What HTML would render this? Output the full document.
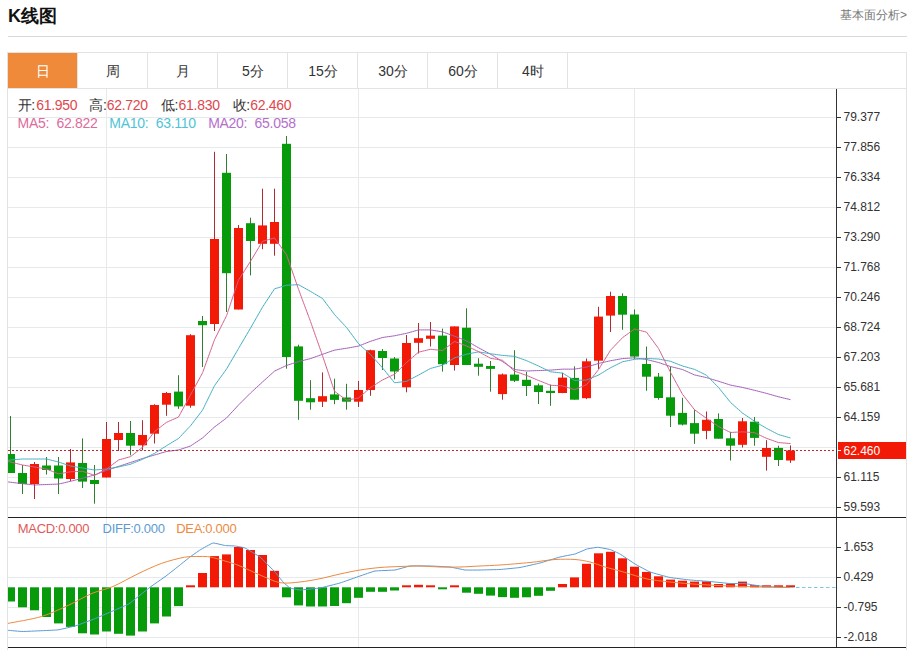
<!DOCTYPE html>
<html><head><meta charset="utf-8">
<style>
html,body{margin:0;padding:0;background:#fff;width:913px;height:650px;overflow:hidden;}
body{position:relative;font-family:"Liberation Sans",sans-serif;color:#333;}
.abs{position:absolute;white-space:nowrap;}
.title{left:8px;top:4px;font-size:18px;font-weight:bold;color:#111;line-height:24px;}
.more{left:840px;top:7px;font-size:12px;color:#777;line-height:16px;}
.hr{left:8px;top:36px;width:899px;height:1px;background:#d9d9d9;}
.tabs{left:7px;top:52px;width:898px;height:35px;border:1px solid #e3e3e3;border-bottom:1px solid #e3e3e3;}
.tab{position:absolute;top:0;height:35px;line-height:36px;text-align:center;font-size:14px;color:#333;}
.tab.on{background:#f08a3b;color:#fff;}
.sep{position:absolute;top:0;width:1px;height:35px;background:#e3e3e3;}
.box{left:7px;top:88px;width:898px;height:562px;border-left:1px solid #e3e3e3;border-right:1px solid #e3e3e3;}
svg{position:absolute;left:0;top:0;}
.ax{font-family:"Liberation Sans",sans-serif;font-size:12px;fill:#333;}
.i14{font-size:14px;line-height:16px;letter-spacing:-0.3px}.i13{font-size:13px;line-height:16px;letter-spacing:-0.3px}
.lb{color:#333}.vr{color:#e0474c}
</style></head><body>
<div class="abs title">K线图</div>
<div class="abs more">基本面分析&gt;</div>
<div class="abs hr"></div>
<div class="abs tabs">
<div class="tab on" style="left:0;width:69px">日</div>
<div class="sep" style="left:69px"></div>
<div class="tab" style="left:70px;width:70px">周</div>
<div class="sep" style="left:139px"></div>
<div class="tab" style="left:140px;width:70px">月</div>
<div class="sep" style="left:209px"></div>
<div class="tab" style="left:210px;width:70px">5分</div>
<div class="sep" style="left:279px"></div>
<div class="tab" style="left:280px;width:70px">15分</div>
<div class="sep" style="left:349px"></div>
<div class="tab" style="left:350px;width:70px">30分</div>
<div class="sep" style="left:419px"></div>
<div class="tab" style="left:420px;width:70px">60分</div>
<div class="sep" style="left:489px"></div>
<div class="tab" style="left:490px;width:70px">4时</div>
<div class="sep" style="left:559px"></div>
</div>
<div class="abs box"></div>
<svg width="913" height="650" viewBox="0 0 913 650" shape-rendering="auto">
<defs><clipPath id="cp"><rect x="8" y="89" width="828" height="558"/></clipPath></defs>
<line x1="8" x2="836" y1="117.5" y2="117.5" stroke="#e7eaed" stroke-width="1"/>
<line x1="8" x2="836" y1="147.5" y2="147.5" stroke="#e7eaed" stroke-width="1"/>
<line x1="8" x2="836" y1="177.5" y2="177.5" stroke="#e7eaed" stroke-width="1"/>
<line x1="8" x2="836" y1="207.5" y2="207.5" stroke="#e7eaed" stroke-width="1"/>
<line x1="8" x2="836" y1="237.5" y2="237.5" stroke="#e7eaed" stroke-width="1"/>
<line x1="8" x2="836" y1="267.5" y2="267.5" stroke="#e7eaed" stroke-width="1"/>
<line x1="8" x2="836" y1="297.5" y2="297.5" stroke="#e7eaed" stroke-width="1"/>
<line x1="8" x2="836" y1="327.5" y2="327.5" stroke="#e7eaed" stroke-width="1"/>
<line x1="8" x2="836" y1="357.5" y2="357.5" stroke="#e7eaed" stroke-width="1"/>
<line x1="8" x2="836" y1="387.5" y2="387.5" stroke="#e7eaed" stroke-width="1"/>
<line x1="8" x2="836" y1="417.5" y2="417.5" stroke="#e7eaed" stroke-width="1"/>
<line x1="8" x2="836" y1="447.5" y2="447.5" stroke="#e7eaed" stroke-width="1"/>
<line x1="8" x2="836" y1="477.5" y2="477.5" stroke="#e7eaed" stroke-width="1"/>
<line x1="8" x2="836" y1="507.5" y2="507.5" stroke="#e7eaed" stroke-width="1"/>
<line x1="106.5" x2="106.5" y1="89" y2="647" stroke="#e7eaed" stroke-width="1"/>
<line x1="358.5" x2="358.5" y1="89" y2="647" stroke="#e7eaed" stroke-width="1"/>
<line x1="634.5" x2="634.5" y1="89" y2="647" stroke="#e7eaed" stroke-width="1"/>
<line x1="8" x2="836" y1="547.5" y2="547.5" stroke="#e7eaed" stroke-width="1"/>
<line x1="8" x2="836" y1="577.5" y2="577.5" stroke="#e7eaed" stroke-width="1"/>
<line x1="8" x2="836" y1="607.5" y2="607.5" stroke="#e7eaed" stroke-width="1"/>
<line x1="8" x2="836" y1="637.5" y2="637.5" stroke="#e7eaed" stroke-width="1"/>
<g clip-path="url(#cp)">
<rect x="10" y="416.0" width="1" height="57.0" fill="#2f7f2f"/>
<rect x="6" y="454.0" width="9" height="19.0" fill="#079b0c"/>
<rect x="22" y="465.0" width="1" height="29.0" fill="#2f7f2f"/>
<rect x="18" y="473.0" width="9" height="11.0" fill="#079b0c"/>
<rect x="34" y="462.0" width="1" height="37.0" fill="#b02a32"/>
<rect x="30" y="464.0" width="9" height="20.0" fill="#f21a06"/>
<rect x="46" y="457.0" width="1" height="17.5" fill="#2f7f2f"/>
<rect x="42" y="465.5" width="9" height="4.5" fill="#079b0c"/>
<rect x="58" y="457.0" width="1" height="37.0" fill="#2f7f2f"/>
<rect x="54" y="465.5" width="9" height="13.0" fill="#079b0c"/>
<rect x="70" y="449.0" width="1" height="32.0" fill="#b02a32"/>
<rect x="66" y="462.4" width="9" height="16.6" fill="#f21a06"/>
<rect x="82" y="438.4" width="1" height="49.6" fill="#2f7f2f"/>
<rect x="78" y="463.0" width="9" height="18.6" fill="#079b0c"/>
<rect x="94" y="465.0" width="1" height="38.7" fill="#2f7f2f"/>
<rect x="90" y="480.0" width="9" height="4.0" fill="#079b0c"/>
<rect x="106" y="422.0" width="1" height="55.5" fill="#b02a32"/>
<rect x="102" y="439.0" width="9" height="38.5" fill="#f21a06"/>
<rect x="118" y="422.0" width="1" height="29.0" fill="#b02a32"/>
<rect x="114" y="433.0" width="9" height="7.0" fill="#f21a06"/>
<rect x="130" y="421.0" width="1" height="34.3" fill="#2f7f2f"/>
<rect x="126" y="433.0" width="9" height="12.7" fill="#079b0c"/>
<rect x="142" y="420.2" width="1" height="30.1" fill="#b02a32"/>
<rect x="138" y="435.0" width="9" height="10.3" fill="#f21a06"/>
<rect x="154" y="404.2" width="1" height="39.3" fill="#b02a32"/>
<rect x="150" y="405.0" width="9" height="28.7" fill="#f21a06"/>
<rect x="166" y="392.0" width="1" height="23.8" fill="#b02a32"/>
<rect x="162" y="393.0" width="9" height="11.7" fill="#f21a06"/>
<rect x="178" y="375.2" width="1" height="33.6" fill="#2f7f2f"/>
<rect x="174" y="391.6" width="9" height="14.8" fill="#079b0c"/>
<rect x="190" y="334.2" width="1" height="73.5" fill="#b02a32"/>
<rect x="186" y="335.2" width="9" height="70.5" fill="#f21a06"/>
<rect x="202" y="316.0" width="1" height="51.0" fill="#2f7f2f"/>
<rect x="198" y="321.0" width="9" height="4.2" fill="#079b0c"/>
<rect x="214" y="151.8" width="1" height="179.2" fill="#b02a32"/>
<rect x="210" y="239.0" width="9" height="85.0" fill="#f21a06"/>
<rect x="226" y="154.0" width="1" height="158.0" fill="#2f7f2f"/>
<rect x="222" y="172.8" width="9" height="100.4" fill="#079b0c"/>
<rect x="238" y="225.0" width="1" height="84.5" fill="#b02a32"/>
<rect x="234" y="228.0" width="9" height="81.5" fill="#f21a06"/>
<rect x="250" y="217.7" width="1" height="57.7" fill="#2f7f2f"/>
<rect x="246" y="223.2" width="9" height="17.8" fill="#079b0c"/>
<rect x="262" y="188.7" width="1" height="60.5" fill="#b02a32"/>
<rect x="258" y="225.4" width="9" height="18.4" fill="#f21a06"/>
<rect x="274" y="188.7" width="1" height="67.0" fill="#b02a32"/>
<rect x="270" y="222.0" width="9" height="21.8" fill="#f21a06"/>
<rect x="286" y="136.0" width="1" height="232.7" fill="#2f7f2f"/>
<rect x="282" y="143.8" width="9" height="213.2" fill="#079b0c"/>
<rect x="298" y="344.7" width="1" height="75.1" fill="#2f7f2f"/>
<rect x="294" y="346.4" width="9" height="54.4" fill="#079b0c"/>
<rect x="310" y="380.2" width="1" height="29.5" fill="#2f7f2f"/>
<rect x="306" y="398.2" width="9" height="4.1" fill="#079b0c"/>
<rect x="322" y="372.4" width="1" height="34.6" fill="#b02a32"/>
<rect x="318" y="396.2" width="9" height="5.5" fill="#f21a06"/>
<rect x="334" y="378.7" width="1" height="25.5" fill="#2f7f2f"/>
<rect x="330" y="394.4" width="9" height="5.5" fill="#079b0c"/>
<rect x="346" y="383.8" width="1" height="25.9" fill="#2f7f2f"/>
<rect x="342" y="397.5" width="9" height="4.2" fill="#079b0c"/>
<rect x="358" y="381.0" width="1" height="26.0" fill="#b02a32"/>
<rect x="354" y="390.0" width="9" height="11.7" fill="#f21a06"/>
<rect x="370" y="349.7" width="1" height="46.1" fill="#b02a32"/>
<rect x="366" y="350.2" width="9" height="39.8" fill="#f21a06"/>
<rect x="382" y="349.0" width="1" height="21.0" fill="#2f7f2f"/>
<rect x="378" y="351.0" width="9" height="7.0" fill="#079b0c"/>
<rect x="394" y="357.0" width="1" height="22.3" fill="#2f7f2f"/>
<rect x="390" y="358.5" width="9" height="13.0" fill="#079b0c"/>
<rect x="406" y="335.0" width="1" height="57.3" fill="#b02a32"/>
<rect x="402" y="343.0" width="9" height="44.3" fill="#f21a06"/>
<rect x="418" y="323.0" width="1" height="30.5" fill="#b02a32"/>
<rect x="414" y="338.2" width="9" height="4.6" fill="#f21a06"/>
<rect x="430" y="322.0" width="1" height="24.5" fill="#b02a32"/>
<rect x="426" y="335.6" width="9" height="3.2" fill="#f21a06"/>
<rect x="442" y="328.6" width="1" height="43.0" fill="#2f7f2f"/>
<rect x="438" y="335.6" width="9" height="28.6" fill="#079b0c"/>
<rect x="454" y="326.4" width="1" height="44.1" fill="#b02a32"/>
<rect x="450" y="326.4" width="9" height="38.6" fill="#f21a06"/>
<rect x="466" y="308.3" width="1" height="56.7" fill="#2f7f2f"/>
<rect x="462" y="327.7" width="9" height="37.3" fill="#079b0c"/>
<rect x="478" y="358.2" width="1" height="17.5" fill="#2f7f2f"/>
<rect x="474" y="363.7" width="9" height="3.1" fill="#079b0c"/>
<rect x="490" y="361.0" width="1" height="30.7" fill="#2f7f2f"/>
<rect x="486" y="366.0" width="9" height="2.9" fill="#079b0c"/>
<rect x="502" y="373.5" width="1" height="26.2" fill="#b02a32"/>
<rect x="498" y="374.4" width="9" height="19.7" fill="#f21a06"/>
<rect x="514" y="350.2" width="1" height="31.8" fill="#2f7f2f"/>
<rect x="510" y="374.6" width="9" height="6.2" fill="#079b0c"/>
<rect x="526" y="372.0" width="1" height="24.0" fill="#2f7f2f"/>
<rect x="522" y="379.8" width="9" height="6.2" fill="#079b0c"/>
<rect x="538" y="383.6" width="1" height="20.4" fill="#2f7f2f"/>
<rect x="534" y="385.3" width="9" height="6.7" fill="#079b0c"/>
<rect x="550" y="384.6" width="1" height="21.2" fill="#2f7f2f"/>
<rect x="546" y="390.8" width="9" height="2.2" fill="#079b0c"/>
<rect x="562" y="372.8" width="1" height="20.4" fill="#b02a32"/>
<rect x="558" y="377.6" width="9" height="15.4" fill="#f21a06"/>
<rect x="574" y="366.3" width="1" height="33.4" fill="#2f7f2f"/>
<rect x="570" y="377.9" width="9" height="21.8" fill="#079b0c"/>
<rect x="586" y="358.5" width="1" height="40.6" fill="#b02a32"/>
<rect x="582" y="361.3" width="9" height="36.9" fill="#f21a06"/>
<rect x="598" y="306.8" width="1" height="62.2" fill="#b02a32"/>
<rect x="594" y="316.6" width="9" height="44.1" fill="#f21a06"/>
<rect x="610" y="291.7" width="1" height="40.3" fill="#b02a32"/>
<rect x="606" y="296.0" width="9" height="19.6" fill="#f21a06"/>
<rect x="622" y="293.3" width="1" height="36.5" fill="#2f7f2f"/>
<rect x="618" y="296.0" width="9" height="18.7" fill="#079b0c"/>
<rect x="634" y="309.5" width="1" height="49.5" fill="#2f7f2f"/>
<rect x="630" y="314.5" width="9" height="42.1" fill="#079b0c"/>
<rect x="646" y="346.5" width="1" height="44.3" fill="#2f7f2f"/>
<rect x="642" y="364.0" width="9" height="12.7" fill="#079b0c"/>
<rect x="658" y="373.0" width="1" height="26.7" fill="#2f7f2f"/>
<rect x="654" y="376.6" width="9" height="21.4" fill="#079b0c"/>
<rect x="670" y="366.5" width="1" height="60.5" fill="#2f7f2f"/>
<rect x="666" y="397.3" width="9" height="18.4" fill="#079b0c"/>
<rect x="682" y="397.8" width="1" height="27.6" fill="#2f7f2f"/>
<rect x="678" y="412.9" width="9" height="11.7" fill="#079b0c"/>
<rect x="694" y="409.8" width="1" height="34.0" fill="#2f7f2f"/>
<rect x="690" y="423.1" width="9" height="10.6" fill="#079b0c"/>
<rect x="706" y="411.5" width="1" height="27.7" fill="#b02a32"/>
<rect x="702" y="419.8" width="9" height="11.1" fill="#f21a06"/>
<rect x="718" y="413.4" width="1" height="25.3" fill="#2f7f2f"/>
<rect x="714" y="419.0" width="9" height="19.7" fill="#079b0c"/>
<rect x="730" y="431.8" width="1" height="28.7" fill="#2f7f2f"/>
<rect x="726" y="438.3" width="9" height="7.4" fill="#079b0c"/>
<rect x="742" y="418.0" width="1" height="29.5" fill="#b02a32"/>
<rect x="738" y="421.3" width="9" height="23.5" fill="#f21a06"/>
<rect x="754" y="417.0" width="1" height="28.7" fill="#2f7f2f"/>
<rect x="750" y="421.7" width="9" height="16.2" fill="#079b0c"/>
<rect x="766" y="440.2" width="1" height="30.4" fill="#b02a32"/>
<rect x="762" y="448.0" width="9" height="8.8" fill="#f21a06"/>
<rect x="778" y="445.7" width="1" height="20.3" fill="#2f7f2f"/>
<rect x="774" y="447.9" width="9" height="12.1" fill="#079b0c"/>
<rect x="790" y="445.4" width="1" height="17.5" fill="#b02a32"/>
<rect x="786" y="450.5" width="9" height="10.0" fill="#f21a06"/>
<path d="M-1.50,480.80 C-1.50,480.80 10.50,482.24 10.50,482.24 C10.50,482.24 22.50,483.68 22.50,483.68 C22.50,483.68 34.50,484.96 34.50,484.96 C34.50,484.96 46.50,484.52 46.50,484.52 C46.50,484.52 58.50,484.07 58.50,484.07 C58.50,484.07 70.50,481.35 70.50,481.35 C70.50,481.35 82.50,478.18 82.50,478.18 C82.50,478.18 94.50,475.00 94.50,475.00 C94.50,475.00 106.50,470.40 106.50,470.40 C106.50,470.40 118.50,466.43 118.50,466.43 C118.50,466.43 130.50,462.47 130.50,462.47 C130.50,462.47 142.50,458.50 142.50,458.50 C142.50,458.50 154.50,455.00 154.50,455.00 C154.50,455.00 166.50,451.50 166.50,451.50 C166.50,451.50 178.50,450.00 178.50,450.00 C178.50,450.00 190.50,446.00 190.50,446.00 C190.50,446.00 202.50,438.00 202.50,438.00 C202.50,438.00 214.50,427.00 214.50,427.00 C214.50,427.00 226.50,418.00 226.50,418.00 C226.50,418.00 238.50,405.00 238.50,405.00 C238.50,405.00 250.50,393.00 250.50,393.00 C250.50,393.00 262.50,382.00 262.50,382.00 C262.50,382.00 274.50,371.13 274.50,371.13 C274.50,371.13 286.50,365.48 286.50,365.48 C286.50,365.48 298.50,361.59 298.50,361.59 C298.50,361.59 310.50,358.59 310.50,358.59 C310.50,358.59 322.50,354.32 322.50,354.32 C322.50,354.32 334.50,350.12 334.50,350.12 C334.50,350.12 346.50,348.25 346.50,348.25 C346.50,348.25 358.50,346.10 358.50,346.10 C358.50,346.10 370.50,341.32 370.50,341.32 C370.50,341.32 382.50,337.48 382.50,337.48 C382.50,337.48 394.50,335.80 394.50,335.80 C394.50,335.80 406.50,333.30 406.50,333.30 C406.50,333.30 418.50,329.89 418.50,329.89 C418.50,329.89 430.50,329.91 430.50,329.91 C430.50,329.91 442.50,331.86 442.50,331.86 C442.50,331.86 454.50,336.23 454.50,336.23 C454.50,336.23 466.50,340.82 466.50,340.82 C466.50,340.82 478.50,347.76 478.50,347.76 C478.50,347.76 490.50,354.16 490.50,354.16 C490.50,354.16 502.50,361.60 502.50,361.60 C502.50,361.60 514.50,369.54 514.50,369.54 C514.50,369.54 526.50,371.00 526.50,371.00 C526.50,371.00 538.50,370.56 538.50,370.56 C538.50,370.56 550.50,370.09 550.50,370.09 C550.50,370.09 562.50,369.16 562.50,369.16 C562.50,369.16 574.50,369.15 574.50,369.15 C574.50,369.15 586.50,367.13 586.50,367.13 C586.50,367.13 598.50,363.46 598.50,363.46 C598.50,363.46 610.50,360.75 610.50,360.75 C610.50,360.75 622.50,358.59 622.50,358.59 C622.50,358.59 634.50,357.84 634.50,357.84 C634.50,357.84 646.50,359.52 646.50,359.52 C646.50,359.52 658.50,362.51 658.50,362.51 C658.50,362.51 670.50,366.52 670.50,366.52 C670.50,366.52 682.50,369.54 682.50,369.54 C682.50,369.54 694.50,374.90 694.50,374.90 C694.50,374.90 706.50,377.64 706.50,377.64 C706.50,377.64 718.50,381.24 718.50,381.24 C718.50,381.24 730.50,385.08 730.50,385.08 C730.50,385.08 742.50,387.43 742.50,387.43 C742.50,387.43 754.50,390.28 754.50,390.28 C754.50,390.28 766.50,393.38 766.50,393.38 C766.50,393.38 778.50,396.78 778.50,396.78 C778.50,396.78 790.50,399.66 790.50,399.66" fill="none" stroke="#a45fb8" stroke-width="1"/>
<path d="M-1.50,461.00 C-1.50,461.00 10.50,460.00 10.50,460.00 C10.50,460.00 22.50,459.00 22.50,459.00 C22.50,459.00 34.50,459.00 34.50,459.00 C34.50,459.00 46.50,459.00 46.50,459.00 C46.50,459.00 58.50,462.00 58.50,462.00 C58.50,462.00 70.50,466.00 70.50,466.00 C70.50,466.00 82.50,468.00 82.50,468.00 C82.50,468.00 94.50,470.00 94.50,470.00 C94.50,470.00 106.50,469.00 106.50,469.00 C106.50,469.00 118.50,466.95 118.50,466.95 C118.50,466.95 130.50,464.22 130.50,464.22 C130.50,464.22 142.50,459.32 142.50,459.32 C142.50,459.32 154.50,453.42 154.50,453.42 C154.50,453.42 166.50,445.72 166.50,445.72 C166.50,445.72 178.50,438.51 178.50,438.51 C178.50,438.51 190.50,425.79 190.50,425.79 C190.50,425.79 202.50,410.15 202.50,410.15 C202.50,410.15 214.50,385.65 214.50,385.65 C214.50,385.65 226.50,369.07 226.50,369.07 C226.50,369.07 238.50,348.57 238.50,348.57 C238.50,348.57 250.50,328.10 250.50,328.10 C250.50,328.10 262.50,307.14 262.50,307.14 C262.50,307.14 274.50,288.84 274.50,288.84 C274.50,288.84 286.50,285.24 286.50,285.24 C286.50,285.24 298.50,284.68 298.50,284.68 C298.50,284.68 310.50,291.39 310.50,291.39 C310.50,291.39 322.50,298.49 322.50,298.49 C322.50,298.49 334.50,314.58 334.50,314.58 C334.50,314.58 346.50,327.43 346.50,327.43 C346.50,327.43 358.50,343.63 358.50,343.63 C358.50,343.63 370.50,354.55 370.50,354.55 C370.50,354.55 382.50,367.81 382.50,367.81 C382.50,367.81 394.50,382.76 394.50,382.76 C394.50,382.76 406.50,381.36 406.50,381.36 C406.50,381.36 418.50,375.10 418.50,375.10 C418.50,375.10 430.50,368.43 430.50,368.43 C430.50,368.43 442.50,365.23 442.50,365.23 C442.50,365.23 454.50,357.88 454.50,357.88 C454.50,357.88 466.50,354.21 466.50,354.21 C466.50,354.21 478.50,351.89 478.50,351.89 C478.50,351.89 490.50,353.76 490.50,353.76 C490.50,353.76 502.50,355.40 502.50,355.40 C502.50,355.40 514.50,356.33 514.50,356.33 C514.50,356.33 526.50,360.63 526.50,360.63 C526.50,360.63 538.50,366.01 538.50,366.01 C538.50,366.01 550.50,371.75 550.50,371.75 C550.50,371.75 562.50,373.09 562.50,373.09 C562.50,373.09 574.50,380.42 574.50,380.42 C574.50,380.42 586.50,380.05 586.50,380.05 C586.50,380.05 598.50,375.03 598.50,375.03 C598.50,375.03 610.50,367.74 610.50,367.74 C610.50,367.74 622.50,361.77 622.50,361.77 C622.50,361.77 634.50,359.35 634.50,359.35 C634.50,359.35 646.50,358.42 646.50,358.42 C646.50,358.42 658.50,359.02 658.50,359.02 C658.50,359.02 670.50,361.29 670.50,361.29 C670.50,361.29 682.50,365.99 682.50,365.99 C682.50,365.99 694.50,369.39 694.50,369.39 C694.50,369.39 706.50,375.24 706.50,375.24 C706.50,375.24 718.50,387.45 718.50,387.45 C718.50,387.45 730.50,402.42 730.50,402.42 C730.50,402.42 742.50,413.08 742.50,413.08 C742.50,413.08 754.50,421.21 754.50,421.21 C754.50,421.21 766.50,428.34 766.50,428.34 C766.50,428.34 778.50,434.54 778.50,434.54 C778.50,434.54 790.50,438.02 790.50,438.02" fill="none" stroke="#43afc2" stroke-width="1"/>
<path d="M-1.50,459.00 C-1.50,459.00 10.50,462.00 10.50,462.00 C10.50,462.00 22.50,465.00 22.50,465.00 C22.50,465.00 34.50,467.00 34.50,467.00 C34.50,467.00 46.50,469.00 46.50,469.00 C46.50,469.00 58.50,473.90 58.50,473.90 C58.50,473.90 70.50,471.78 70.50,471.78 C70.50,471.78 82.50,471.30 82.50,471.30 C82.50,471.30 94.50,475.30 94.50,475.30 C94.50,475.30 106.50,469.10 106.50,469.10 C106.50,469.10 118.50,460.00 118.50,460.00 C118.50,460.00 130.50,456.66 130.50,456.66 C130.50,456.66 142.50,447.34 142.50,447.34 C142.50,447.34 154.50,431.54 154.50,431.54 C154.50,431.54 166.50,422.34 166.50,422.34 C166.50,422.34 178.50,417.02 178.50,417.02 C178.50,417.02 190.50,394.92 190.50,394.92 C190.50,394.92 202.50,372.96 202.50,372.96 C202.50,372.96 214.50,339.76 214.50,339.76 C214.50,339.76 226.50,315.80 226.50,315.80 C226.50,315.80 238.50,280.12 238.50,280.12 C238.50,280.12 250.50,261.28 250.50,261.28 C250.50,261.28 262.50,241.32 262.50,241.32 C262.50,241.32 274.50,237.92 274.50,237.92 C274.50,237.92 286.50,254.68 286.50,254.68 C286.50,254.68 298.50,289.24 298.50,289.24 C298.50,289.24 310.50,321.50 310.50,321.50 C310.50,321.50 322.50,355.66 322.50,355.66 C322.50,355.66 334.50,391.24 334.50,391.24 C334.50,391.24 346.50,400.18 346.50,400.18 C346.50,400.18 358.50,398.02 358.50,398.02 C358.50,398.02 370.50,387.60 370.50,387.60 C370.50,387.60 382.50,379.96 382.50,379.96 C382.50,379.96 394.50,374.28 394.50,374.28 C394.50,374.28 406.50,362.54 406.50,362.54 C406.50,362.54 418.50,352.18 418.50,352.18 C418.50,352.18 430.50,349.26 430.50,349.26 C430.50,349.26 442.50,350.50 442.50,350.50 C442.50,350.50 454.50,341.48 454.50,341.48 C454.50,341.48 466.50,345.88 466.50,345.88 C466.50,345.88 478.50,351.60 478.50,351.60 C478.50,351.60 490.50,358.26 490.50,358.26 C490.50,358.26 502.50,360.30 502.50,360.30 C502.50,360.30 514.50,371.18 514.50,371.18 C514.50,371.18 526.50,375.38 526.50,375.38 C526.50,375.38 538.50,380.42 538.50,380.42 C538.50,380.42 550.50,385.24 550.50,385.24 C550.50,385.24 562.50,385.88 562.50,385.88 C562.50,385.88 574.50,389.66 574.50,389.66 C574.50,389.66 586.50,384.72 586.50,384.72 C586.50,384.72 598.50,369.64 598.50,369.64 C598.50,369.64 610.50,350.24 610.50,350.24 C610.50,350.24 622.50,337.66 622.50,337.66 C622.50,337.66 634.50,329.04 634.50,329.04 C634.50,329.04 646.50,332.12 646.50,332.12 C646.50,332.12 658.50,348.40 658.50,348.40 C658.50,348.40 670.50,372.34 670.50,372.34 C670.50,372.34 682.50,394.32 682.50,394.32 C682.50,394.32 694.50,409.74 694.50,409.74 C694.50,409.74 706.50,418.36 706.50,418.36 C706.50,418.36 718.50,426.50 718.50,426.50 C718.50,426.50 730.50,432.50 730.50,432.50 C730.50,432.50 742.50,431.84 742.50,431.84 C742.50,431.84 754.50,432.68 754.50,432.68 C754.50,432.68 766.50,438.32 766.50,438.32 C766.50,438.32 778.50,442.58 778.50,442.58 C778.50,442.58 790.50,443.54 790.50,443.54" fill="none" stroke="#d4618f" stroke-width="1"/>
<line x1="8" x2="836" y1="450.5" y2="450.5" stroke="#c0282e" stroke-width="1" stroke-dasharray="2,2"/>
<rect x="6" y="587.3" width="9" height="14.2" fill="#079b0c"/>
<rect x="18" y="587.3" width="9" height="20.0" fill="#079b0c"/>
<rect x="30" y="587.3" width="9" height="23.0" fill="#079b0c"/>
<rect x="42" y="587.3" width="9" height="29.7" fill="#079b0c"/>
<rect x="54" y="587.3" width="9" height="36.1" fill="#079b0c"/>
<rect x="66" y="587.3" width="9" height="39.6" fill="#079b0c"/>
<rect x="78" y="587.3" width="9" height="46.0" fill="#079b0c"/>
<rect x="90" y="587.3" width="9" height="47.2" fill="#079b0c"/>
<rect x="102" y="587.3" width="9" height="44.2" fill="#079b0c"/>
<rect x="114" y="587.3" width="9" height="46.5" fill="#079b0c"/>
<rect x="126" y="587.3" width="9" height="48.3" fill="#079b0c"/>
<rect x="138" y="587.3" width="9" height="44.2" fill="#079b0c"/>
<rect x="150" y="587.3" width="9" height="36.1" fill="#079b0c"/>
<rect x="162" y="587.3" width="9" height="29.2" fill="#079b0c"/>
<rect x="174" y="587.3" width="9" height="18.8" fill="#079b0c"/>
<rect x="186" y="585.3" width="9" height="2.0" fill="#f21a06"/>
<rect x="198" y="573.0" width="9" height="14.3" fill="#f21a06"/>
<rect x="210" y="556.1" width="9" height="31.2" fill="#f21a06"/>
<rect x="222" y="554.4" width="9" height="32.9" fill="#f21a06"/>
<rect x="234" y="547.0" width="9" height="40.3" fill="#f21a06"/>
<rect x="246" y="550.0" width="9" height="37.3" fill="#f21a06"/>
<rect x="258" y="555.0" width="9" height="32.3" fill="#f21a06"/>
<rect x="270" y="570.8" width="9" height="16.5" fill="#f21a06"/>
<rect x="282" y="587.3" width="9" height="10.0" fill="#079b0c"/>
<rect x="294" y="587.3" width="9" height="18.1" fill="#079b0c"/>
<rect x="306" y="587.3" width="9" height="19.2" fill="#079b0c"/>
<rect x="318" y="587.3" width="9" height="19.2" fill="#079b0c"/>
<rect x="330" y="587.3" width="9" height="18.7" fill="#079b0c"/>
<rect x="342" y="587.3" width="9" height="15.9" fill="#079b0c"/>
<rect x="354" y="587.3" width="9" height="10.5" fill="#079b0c"/>
<rect x="366" y="587.3" width="9" height="4.5" fill="#079b0c"/>
<rect x="378" y="587.3" width="9" height="4.5" fill="#079b0c"/>
<rect x="390" y="587.3" width="9" height="3.2" fill="#079b0c"/>
<rect x="402" y="585.3" width="9" height="2.0" fill="#f21a06"/>
<rect x="414" y="584.8" width="9" height="2.5" fill="#f21a06"/>
<rect x="426" y="585.3" width="9" height="2.0" fill="#f21a06"/>
<rect x="438" y="587.3" width="9" height="2.0" fill="#079b0c"/>
<rect x="450" y="585.3" width="9" height="2.0" fill="#f21a06"/>
<rect x="462" y="587.3" width="9" height="5.4" fill="#079b0c"/>
<rect x="474" y="587.3" width="9" height="6.5" fill="#079b0c"/>
<rect x="486" y="587.3" width="9" height="8.3" fill="#079b0c"/>
<rect x="498" y="587.3" width="9" height="9.8" fill="#079b0c"/>
<rect x="510" y="587.3" width="9" height="10.5" fill="#079b0c"/>
<rect x="522" y="587.3" width="9" height="10.0" fill="#079b0c"/>
<rect x="534" y="587.3" width="9" height="8.5" fill="#079b0c"/>
<rect x="546" y="587.3" width="9" height="3.5" fill="#079b0c"/>
<rect x="558" y="584.0" width="9" height="3.3" fill="#f21a06"/>
<rect x="570" y="577.4" width="9" height="9.9" fill="#f21a06"/>
<rect x="582" y="563.8" width="9" height="23.5" fill="#f21a06"/>
<rect x="594" y="553.3" width="9" height="34.0" fill="#f21a06"/>
<rect x="606" y="551.8" width="9" height="35.5" fill="#f21a06"/>
<rect x="618" y="558.3" width="9" height="29.0" fill="#f21a06"/>
<rect x="630" y="566.7" width="9" height="20.6" fill="#f21a06"/>
<rect x="642" y="571.9" width="9" height="15.4" fill="#f21a06"/>
<rect x="654" y="576.3" width="9" height="11.0" fill="#f21a06"/>
<rect x="666" y="579.6" width="9" height="7.7" fill="#f21a06"/>
<rect x="678" y="580.7" width="9" height="6.6" fill="#f21a06"/>
<rect x="690" y="581.6" width="9" height="5.7" fill="#f21a06"/>
<rect x="702" y="581.4" width="9" height="5.9" fill="#f21a06"/>
<rect x="714" y="584.0" width="9" height="3.3" fill="#f21a06"/>
<rect x="726" y="583.5" width="9" height="3.8" fill="#f21a06"/>
<rect x="738" y="581.6" width="9" height="5.7" fill="#f21a06"/>
<rect x="750" y="585.2" width="9" height="2.1" fill="#f21a06"/>
<rect x="762" y="585.3" width="9" height="2.0" fill="#f21a06"/>
<rect x="774" y="585.3" width="9" height="2.0" fill="#f21a06"/>
<rect x="786" y="585.3" width="9" height="2.0" fill="#f21a06"/>
<path d="M4.00,630.00 C4.16,630.01 7.24,630.24 8.00,630.30 C8.76,630.36 21.01,631.52 23.00,631.50 C24.99,631.48 55.58,630.13 57.70,629.90 C59.82,629.67 74.52,626.14 76.00,625.70 C77.48,625.26 93.21,619.35 94.60,618.80 C95.99,618.25 109.32,612.50 110.70,611.90 C112.08,611.30 127.47,604.76 129.00,603.80 C130.53,602.84 147.52,589.11 149.00,588.00 C150.48,586.89 164.76,576.92 166.00,576.00 C167.24,575.08 179.04,565.76 180.00,565.00 C180.96,564.24 189.20,557.60 190.00,557.00 C190.80,556.40 199.08,550.56 200.00,550.00 C200.92,549.44 212.00,543.18 213.00,543.00 C214.00,542.82 224.12,545.38 225.00,545.50 C225.88,545.62 234.20,545.90 235.00,546.00 C235.80,546.10 244.00,547.56 245.00,548.00 C246.00,548.44 258.80,556.04 260.00,557.00 C261.20,557.96 274.08,571.00 275.00,572.00 C275.92,573.00 282.40,581.36 283.00,582.00 C283.60,582.64 289.32,587.68 290.00,588.00 C290.68,588.32 298.80,590.00 300.00,590.00 C301.20,590.00 318.40,588.28 320.00,588.00 C321.60,587.72 338.40,583.48 340.00,583.00 C341.60,582.52 358.60,576.48 360.00,576.00 C361.40,575.52 373.60,571.24 375.00,571.00 C376.40,570.76 393.60,570.20 395.00,570.00 C396.40,569.80 408.60,566.16 410.00,566.00 C411.40,565.84 428.40,565.96 430.00,566.00 C431.60,566.04 448.60,566.84 450.00,567.00 C451.40,567.16 463.80,569.88 465.00,570.00 C466.20,570.12 478.60,570.02 480.00,570.00 C481.40,569.98 498.40,569.60 500.00,569.50 C501.60,569.40 518.40,567.76 520.00,567.50 C521.60,567.24 538.40,563.42 540.00,563.00 C541.60,562.58 558.60,557.36 560.00,557.00 C561.40,556.64 573.92,554.32 575.00,554.00 C576.08,553.68 586.08,549.27 587.00,549.00 C587.92,548.73 597.08,547.28 598.00,547.30 C598.92,547.32 609.12,549.23 610.00,549.50 C610.88,549.77 619.00,553.42 620.00,554.00 C621.00,554.58 633.80,563.28 635.00,564.00 C636.20,564.72 648.60,571.46 650.00,572.00 C651.40,572.54 668.40,577.18 670.00,577.50 C671.60,577.82 688.40,579.84 690.00,580.00 C691.60,580.16 708.40,581.36 710.00,581.50 C711.60,581.64 728.60,583.42 730.00,583.50 C731.40,583.58 743.80,583.50 745.00,583.60 C746.20,583.70 758.80,585.86 760.00,586.00 C761.20,586.14 773.80,586.94 775.00,587.00 C776.20,587.06 789.40,587.48 790.00,587.50" fill="none" stroke="#5b9bd5" stroke-width="1"/>
<path d="M4.00,624.20 C4.60,624.08 2.38,624.55 8.00,623.40 C13.62,622.25 32.35,619.26 41.50,616.50 C50.65,613.74 61.42,608.47 69.00,605.00 C76.58,601.53 85.40,596.17 92.00,593.40 C98.60,590.62 106.10,589.44 113.00,586.50 C119.90,583.56 130.72,577.26 138.00,573.80 C145.28,570.33 154.53,565.89 161.50,563.40 C168.47,560.91 178.72,558.24 184.50,557.20 C190.28,556.17 196.18,556.53 200.00,556.50 C203.82,556.47 206.25,556.33 210.00,557.00 C213.75,557.67 220.50,559.65 225.00,561.00 C229.50,562.35 234.75,563.90 240.00,566.00 C245.25,568.10 254.00,572.50 260.00,575.00 C266.00,577.50 274.00,581.65 280.00,582.70 C286.00,583.75 294.00,582.60 300.00,582.00 C306.00,581.40 314.00,579.90 320.00,578.70 C326.00,577.50 334.00,575.31 340.00,574.00 C346.00,572.69 354.00,570.98 360.00,570.00 C366.00,569.02 374.00,568.02 380.00,567.50 C386.00,566.98 394.00,566.73 400.00,566.50 C406.00,566.27 414.00,565.92 420.00,566.00 C426.00,566.08 434.00,566.85 440.00,567.00 C446.00,567.15 454.00,567.15 460.00,567.00 C466.00,566.85 474.00,566.30 480.00,566.00 C486.00,565.70 492.50,565.52 500.00,565.00 C507.50,564.48 521.75,563.33 530.00,562.50 C538.25,561.67 548.25,559.95 555.00,559.50 C561.75,559.05 569.75,559.12 575.00,559.50 C580.25,559.88 585.50,560.88 590.00,562.00 C594.50,563.12 600.50,565.65 605.00,567.00 C609.50,568.35 614.75,569.50 620.00,571.00 C625.25,572.50 635.50,575.73 640.00,577.00 C644.50,578.27 645.50,578.75 650.00,579.50 C654.50,580.25 662.50,581.25 670.00,582.00 C677.50,582.75 691.00,583.90 700.00,584.50 C709.00,585.10 721.00,585.62 730.00,586.00 C739.00,586.38 751.00,586.81 760.00,587.00 C769.00,587.19 785.50,587.25 790.00,587.30" fill="none" stroke="#ec8a43" stroke-width="1"/>
<line x1="790" x2="836" y1="587.5" y2="587.5" stroke="#7ec6de" stroke-width="1" stroke-dasharray="3.5,2.5"/>
</g>
<line x1="836.5" x2="836.5" y1="89" y2="647" stroke="#333" stroke-width="1"/>
<line x1="8" x2="906" y1="517.5" y2="517.5" stroke="#222" stroke-width="1.2"/>
<line x1="8" x2="906" y1="647.5" y2="647.5" stroke="#222" stroke-width="1.2"/>
<line x1="837" x2="841" y1="117.5" y2="117.5" stroke="#333" stroke-width="1"/>
<text x="843.5" y="121.3" class="ax">79.377</text>
<line x1="837" x2="841" y1="147.5" y2="147.5" stroke="#333" stroke-width="1"/>
<text x="843.5" y="151.3" class="ax">77.856</text>
<line x1="837" x2="841" y1="177.5" y2="177.5" stroke="#333" stroke-width="1"/>
<text x="843.5" y="181.3" class="ax">76.334</text>
<line x1="837" x2="841" y1="207.5" y2="207.5" stroke="#333" stroke-width="1"/>
<text x="843.5" y="211.3" class="ax">74.812</text>
<line x1="837" x2="841" y1="237.5" y2="237.5" stroke="#333" stroke-width="1"/>
<text x="843.5" y="241.3" class="ax">73.290</text>
<line x1="837" x2="841" y1="267.5" y2="267.5" stroke="#333" stroke-width="1"/>
<text x="843.5" y="271.3" class="ax">71.768</text>
<line x1="837" x2="841" y1="297.5" y2="297.5" stroke="#333" stroke-width="1"/>
<text x="843.5" y="301.3" class="ax">70.246</text>
<line x1="837" x2="841" y1="327.5" y2="327.5" stroke="#333" stroke-width="1"/>
<text x="843.5" y="331.3" class="ax">68.724</text>
<line x1="837" x2="841" y1="357.5" y2="357.5" stroke="#333" stroke-width="1"/>
<text x="843.5" y="361.3" class="ax">67.203</text>
<line x1="837" x2="841" y1="387.5" y2="387.5" stroke="#333" stroke-width="1"/>
<text x="843.5" y="391.3" class="ax">65.681</text>
<line x1="837" x2="841" y1="417.5" y2="417.5" stroke="#333" stroke-width="1"/>
<text x="843.5" y="421.3" class="ax">64.159</text>
<line x1="837" x2="841" y1="477.5" y2="477.5" stroke="#333" stroke-width="1"/>
<text x="843.5" y="481.3" class="ax">61.115</text>
<line x1="837" x2="841" y1="507.5" y2="507.5" stroke="#333" stroke-width="1"/>
<text x="843.5" y="511.3" class="ax">59.593</text>
<rect x="838" y="442" width="68" height="17" fill="#f21a06"/>
<line x1="837" x2="841" y1="450.5" y2="450.5" stroke="#fff" stroke-width="1"/>
<text x="843.5" y="455" class="ax" fill="#fff" style="fill:#fff">62.460</text>
<line x1="837" x2="841" y1="547.5" y2="547.5" stroke="#333" stroke-width="1"/>
<text x="843.5" y="551.3" class="ax">1.653</text>
<line x1="837" x2="841" y1="577.5" y2="577.5" stroke="#333" stroke-width="1"/>
<text x="843.5" y="581.3" class="ax">0.429</text>
<line x1="837" x2="841" y1="607.5" y2="607.5" stroke="#333" stroke-width="1"/>
<text x="843.5" y="611.3" class="ax">-0.795</text>
<line x1="837" x2="841" y1="637.5" y2="637.5" stroke="#333" stroke-width="1"/>
<text x="843.5" y="641.3" class="ax">-2.018</text>
</svg>
<div class="abs i14 lb" style="left:17.6px;top:97px">开:</div><div class="abs i14 vr" style="left:36.2px;top:97px">61.950</div>
<div class="abs i14 lb" style="left:89.2px;top:97px">高:</div><div class="abs i14 vr" style="left:106.8px;top:97px">62.720</div>
<div class="abs i14 lb" style="left:160.9px;top:97px">低:</div><div class="abs i14 vr" style="left:178.6px;top:97px">61.830</div>
<div class="abs i14 lb" style="left:232.6px;top:97px">收:</div><div class="abs i14 vr" style="left:250.3px;top:97px">62.460</div>
<div class="abs i14" style="left:17.6px;top:115px;color:#dd6b9c">MA5:</div><div class="abs i14" style="left:56.4px;top:115px;color:#dd6b9c">62.822</div>
<div class="abs i14" style="left:109.3px;top:115px;color:#4fc3d6">MA10:</div><div class="abs i14" style="left:155.7px;top:115px;color:#4fc3d6">63.110</div>
<div class="abs i14" style="left:208.2px;top:115px;color:#b46fcb">MA20:</div><div class="abs i14" style="left:254.6px;top:115px;color:#b46fcb">65.058</div>
<div class="abs i13" style="left:17.8px;top:521px;color:#e05a5a">MACD:0.000</div>
<div class="abs i13" style="left:102.6px;top:521px;color:#5b9bd5">DIFF:0.000</div>
<div class="abs i13" style="left:176.2px;top:521px;color:#ec8a43">DEA:0.000</div>
</body></html>
